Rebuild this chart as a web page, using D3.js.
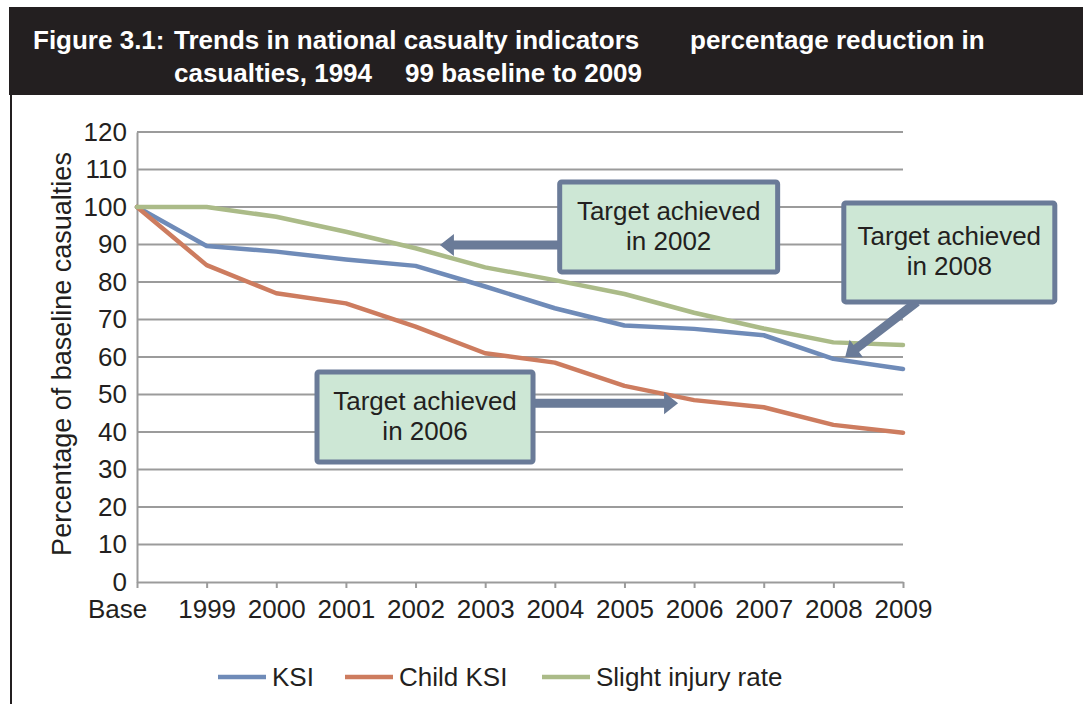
<!DOCTYPE html>
<html>
<head>
<meta charset="utf-8">
<script src="https://cdn.jsdelivr.net/npm/d3@7"></script>
<style>
  body { margin: 0; background: #fff; }
  svg { display: block; font-family: "Liberation Sans", Arial, Helvetica, sans-serif; }
</style>
</head>
<body>
<svg id="chart" width="1083" height="704"></svg>
<script>
// Categories along the x axis
const categories = ["Base", "1999", "2000", "2001", "2002", "2003", "2004", "2005", "2006", "2007", "2008", "2009"];

// Percentage of 1994-98 baseline casualties
const ksi        = [100, 89.6, 88.1, 86.0, 84.3, 78.8, 73.0, 68.4, 67.5, 65.8, 59.5, 56.8];
const childKsi   = [100, 84.5, 77.0, 74.3, 68.1, 61.0, 58.5, 52.3, 48.5, 46.6, 41.9, 39.8];
const slightRate = [100, 100, 97.4, 93.4, 89.0, 83.9, 80.5, 76.8, 71.8, 67.6, 63.9, 63.2];

const seriesNames  = ["KSI", "Child KSI", "Slight injury rate"];
const seriesColors = ["#6f8bb8", "#cd7c5f", "#abbb88"];

const yTicks = d3.range(0, 121, 10);

// Call-out boxes: extents and arrows in (category index, value) units
const calloutText = [["Target achieved", "in 2002"], ["Target achieved", "in 2008"], ["Target achieved", "in 2006"]];
const calloutBox  = [[6.07, 9.20, 106.7, 82.7], [10.15, 13.18, 101.1, 74.7], [2.585, 5.687, 56.0, 32.0]];
const calloutArrow = [[6.07, 89.9, 4.35, 89.9], [11.2, 74.7, 10.17, 60.0], [5.687, 47.7, 7.77, 47.7]];

const svg = d3.select("#chart");

// ---- heading band ----
svg.append("rect").attr("x", 9).attr("y", 7).attr("width", 1080).attr("height", 88).attr("fill", "#231f20");
svg.append("line").attr("x1", 11).attr("x2", 11).attr("y1", 95).attr("y2", 704)
  .attr("stroke", "#231f20").attr("stroke-width", 2);

const title = svg.append("text").attr("fill", "#fff").attr("font-weight", "bold").attr("font-size", 26);
title.append("tspan").attr("x", 33).attr("y", 49).text("Figure 3.1:");
title.append("tspan").attr("x", 174).attr("y", 49).text("Trends in national casualty indicators");
title.append("tspan").attr("x", 690).attr("y", 49).text("percentage reduction in");
title.append("tspan").attr("x", 174).attr("y", 82).text("casualties, 1994");
title.append("tspan").attr("x", 405).attr("y", 82).text("99 baseline to 2009");

// ---- scales ----
const x = d3.scalePoint().domain(categories).range([137, 903]);
const xi = d3.scaleLinear().domain([0, categories.length - 1]).range([137, 903]);
const y = d3.scaleLinear().domain([0, 120]).range([582, 132]);

const gridColor = "#9b9b9b";

// horizontal gridlines
svg.append("g").selectAll("line").data(yTicks.filter(d => d > 0)).join("line")
  .attr("x1", x.range()[0]).attr("x2", x.range()[1])
  .attr("y1", d => y(d)).attr("y2", d => y(d))
  .attr("stroke", gridColor).attr("stroke-width", 2);

// y axis
const yAxis = svg.append("g").attr("transform", `translate(${x.range()[0]},0)`)
  .call(d3.axisLeft(y).tickValues(yTicks).tickSize(0).tickPadding(10));
yAxis.select(".domain").attr("stroke", gridColor).attr("stroke-width", 2);
yAxis.selectAll("text").attr("font-size", 26).attr("fill", "#231f20").attr("font-family", "Liberation Sans, Arial, sans-serif");

// x axis
const xAxis = svg.append("g").attr("transform", `translate(0,${y(0)})`)
  .call(d3.axisBottom(x).tickSize(6).tickSizeOuter(0).tickPadding(12));
xAxis.select(".domain").attr("stroke", gridColor).attr("stroke-width", 2);
xAxis.selectAll(".tick line").attr("stroke", gridColor).attr("stroke-width", 2);
xAxis.selectAll("text").attr("font-size", 26).attr("fill", "#231f20").attr("font-family", "Liberation Sans, Arial, sans-serif")
  .attr("dx", (d, i) => i === 0 ? -20 : 0);

// y axis title
svg.append("text")
  .attr("transform", `translate(71,${(y(0) + y(120)) / 2 - 3}) rotate(-90)`)
  .attr("text-anchor", "middle").attr("font-size", 27).attr("fill", "#231f20")
  .text("Percentage of baseline casualties");

// ---- series lines ----
const allSeries = [ksi, childKsi, slightRate];
const line = d3.line().x((d, i) => x(categories[i])).y(d => y(d));
svg.append("g").selectAll("path").data(allSeries).join("path")
  .attr("d", line).attr("fill", "none")
  .attr("stroke", (d, i) => seriesColors[i]).attr("stroke-width", 4.5)
  .attr("stroke-linejoin", "round").attr("stroke-linecap", "round");

// ---- call-outs ----
const calloutStroke = "#6a7b98";
function arrowPath(x1, y1, x2, y2, shaft, headLen, headW) {
  const dx = x2 - x1, dy = y2 - y1, len = Math.hypot(dx, dy);
  const ux = dx / len, uy = dy / len, nx = -uy, ny = ux;
  const bx = x2 - ux * headLen, by = y2 - uy * headLen;
  const p = [
    [x1 + nx * shaft / 2, y1 + ny * shaft / 2],
    [bx + nx * shaft / 2, by + ny * shaft / 2],
    [bx + nx * headW / 2, by + ny * headW / 2],
    [x2, y2],
    [bx - nx * headW / 2, by - ny * headW / 2],
    [bx - nx * shaft / 2, by - ny * shaft / 2],
    [x1 - nx * shaft / 2, y1 - ny * shaft / 2]
  ];
  return "M" + p.map(q => q.join(",")).join("L") + "Z";
}

const arrows = svg.append("g");
calloutArrow.forEach(a => {
  arrows.append("path")
    .attr("d", arrowPath(xi(a[0]), y(a[1]), xi(a[2]), y(a[3]), 9, 14, 22))
    .attr("fill", calloutStroke);
});

const boxes = svg.append("g");
calloutBox.forEach((b, k) => {
  const bx0 = xi(b[0]), bx1 = xi(b[1]), by0 = y(b[2]), by1 = y(b[3]);
  boxes.append("rect")
    .attr("x", bx0).attr("y", by0).attr("width", bx1 - bx0).attr("height", by1 - by0)
    .attr("rx", 2).attr("fill", "#cde7d5")
    .attr("stroke", calloutStroke).attr("stroke-width", 5);
  const cx = (bx0 + bx1) / 2, cy = (by0 + by1) / 2;
  const t = boxes.append("text").attr("text-anchor", "middle").attr("font-size", 26).attr("fill", "#231f20");
  calloutText[k].forEach((s, j) => {
    t.append("tspan").attr("x", cx).attr("y", cy - 7 + j * 30).text(s);
  });
});

// ---- legend ----
const legendX = [218, 345, 542];
const legend = svg.append("g");
seriesNames.forEach((name, i) => {
  legend.append("line").attr("x1", legendX[i]).attr("x2", legendX[i] + 48)
    .attr("y1", 677).attr("y2", 677)
    .attr("stroke", seriesColors[i]).attr("stroke-width", 4.5);
  legend.append("text").attr("x", legendX[i] + 54).attr("y", 686)
    .attr("font-size", 26).attr("fill", "#231f20").text(name);
});
</script>
</body>
</html>
